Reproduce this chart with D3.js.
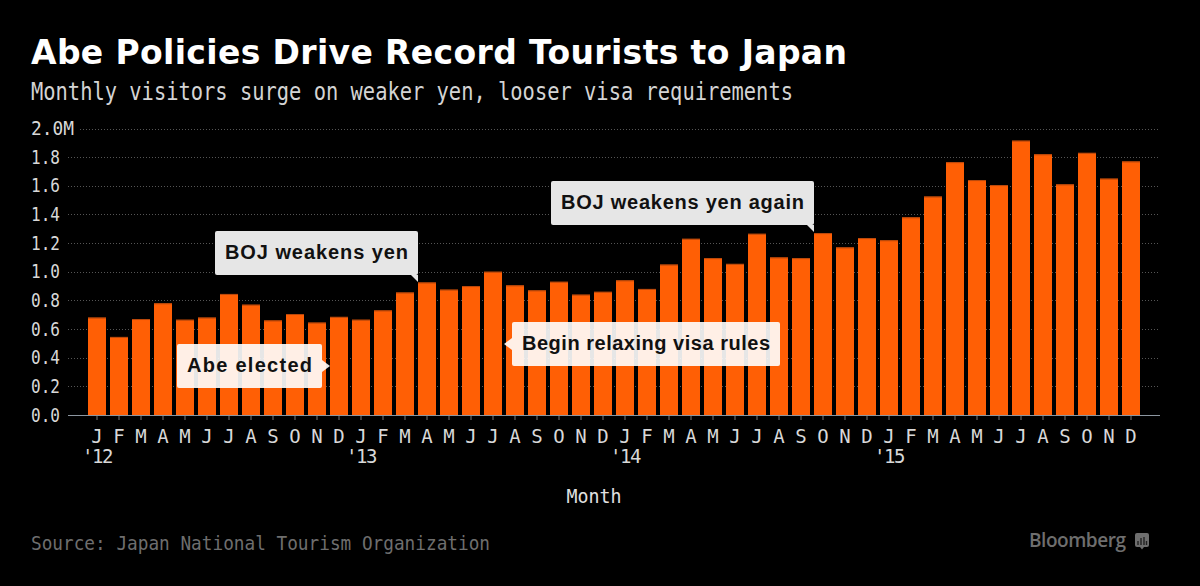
<!DOCTYPE html>
<html>
<head>
<meta charset="utf-8">
<script src="https://cdn.jsdelivr.net/npm/d3@7"></script>
<style>
html, body { margin: 0; padding: 0; background: #000; }
svg { display: block; }
text { font-family: "DejaVu Sans", sans-serif; }
.mono { font-family: "DejaVu Sans Mono", monospace; }
</style>
</head>
<body>
<svg id="chart"></svg>
<script>
const months = ["J", "F", "M", "A", "M", "J", "J", "A", "S", "O", "N", "D"];
const years = ["'12", "'13", "'14", "'15"];
const visitors = [
    0.68, 0.545, 0.67, 0.78, 0.665, 0.68, 0.845, 0.77, 0.66, 0.705, 0.645, 0.685,
    0.665, 0.73, 0.855, 0.925, 0.875, 0.90, 1.00, 0.905, 0.87, 0.93, 0.84, 0.86,
    0.94, 0.88, 1.05, 1.23, 1.095, 1.055, 1.265, 1.10, 1.095, 1.27, 1.17, 1.235,
    1.22, 1.38, 1.525, 1.765, 1.64, 1.605, 1.915, 1.82, 1.61, 1.83, 1.65, 1.77
];
const yTicks = [0, 0.2, 0.4, 0.6, 0.8, 1.0, 1.2, 1.4, 1.6, 1.8, 2.0];

const width = 1200, height = 586;
const left = 68, right = 1160, top_ = 128.5, bottom = 415;

const svg = d3.select("#chart").attr("width", width).attr("height", height);

const indexes = visitors.map((d, i) => i);
const x = d3.scaleBand().domain(indexes).range([86, 1142]).paddingInner(4 / 22).paddingOuter(2 / 22);
const y = d3.scaleLinear().domain([0, 2]).range([bottom, top_]);

// titles
svg.append("text").attr("x", 31).attr("y", 64)
    .text("Abe Policies Drive Record Tourists to Japan")
    .style("font-size", "33px").style("font-weight", "bold").style("fill", "#fff")
    .attr("textLength", 816);
svg.append("text").attr("class", "mono").attr("x", 31).attr("y", 100)
    .text("Monthly visitors surge on weaker yen, looser visa requirements")
    .style("font-size", "24px").style("fill", "#d4d4d4")
    .attr("textLength", 762).attr("lengthAdjust", "spacingAndGlyphs");

// y axis with dotted gridlines
const yAxis = svg.append("g")
    .attr("transform", `translate(${left}, 0)`)
    .call(d3.axisLeft(y).tickValues(yTicks).tickSize(0).tickPadding(8)
        .tickFormat(d => d === 2 ? "2.0M" : d3.format(".1f")(d)));
yAxis.select(".domain").remove();
yAxis.selectAll("text")
    .attr("class", "mono")
    .attr("text-anchor", "start")
    .attr("x", -37)
    .attr("textLength", d => d === 2 ? 43 : 29)
    .attr("lengthAdjust", "spacingAndGlyphs")
    .style("font-family", "'DejaVu Sans Mono', monospace")
    .style("font-size", "19px")
    .style("fill", "#d8d8d8");

svg.append("g").selectAll("line")
    .data(yTicks.filter(d => d > 0))
    .join("line")
    .attr("x1", d => d === 2 ? 80 : left)
    .attr("x2", right)
    .attr("y1", d => Math.round(y(d)) + 0.5)
    .attr("y2", d => Math.round(y(d)) + 0.5)
    .style("stroke", "#555")
    .style("stroke-dasharray", "1,2");

// bars
svg.append("g").selectAll("rect")
    .data(indexes)
    .join("rect")
    .attr("x", d => x(d))
    .attr("y", d => y(visitors[d]))
    .attr("width", x.bandwidth())
    .attr("height", d => bottom - y(visitors[d]))
    .style("fill", "#ff5f05");

svg.append("g").selectAll("rect")
    .data(indexes)
    .join("rect")
    .attr("x", d => x(d))
    .attr("y", d => y(visitors[d]))
    .attr("width", x.bandwidth())
    .attr("height", 1)
    .style("fill", "#b8480c");

// x axis
const xAxis = svg.append("g").attr("transform", `translate(0, ${bottom})`);
xAxis.append("line")
    .attr("x1", left).attr("x2", right).attr("y1", 0.5).attr("y2", 0.5)
    .style("stroke", "#8c96a0");
xAxis.selectAll("line.tick")
    .data(indexes)
    .join("line")
    .attr("class", "tick")
    .attr("x1", d => x(d) + x.bandwidth() / 2)
    .attr("x2", d => x(d) + x.bandwidth() / 2)
    .attr("y1", 1).attr("y2", 5)
    .style("stroke", "#777");
xAxis.selectAll("text.month")
    .data(indexes)
    .join("text")
    .attr("class", "month mono")
    .attr("x", d => x(d) + x.bandwidth() / 2)
    .attr("y", 28)
    .attr("text-anchor", "middle")
    .text(d => months[d % 12])
    .style("font-size", "19px")
    .style("fill", "#d8d8d8");
xAxis.selectAll("text.year")
    .data(years)
    .join("text")
    .attr("class", "year mono")
    .attr("x", (d, i) => x(i * 12) + x.bandwidth() / 2)
    .attr("y", 48)
    .attr("text-anchor", "middle")
    .text(d => d)
    .style("font-size", "19px")
    .style("letter-spacing", "-1.5px")
    .style("fill", "#d8d8d8");

svg.append("text").attr("class", "mono").attr("x", 594).attr("y", 503).attr("text-anchor", "middle")
    .text("Month").style("font-size", "19px").style("fill", "#e0e0e0")
    .attr("textLength", 55).attr("lengthAdjust", "spacingAndGlyphs");

// annotations: box, pointer, label
function callout(bx, by, bw, bh, pointer, label, labelWidth, fill) {
    const g = svg.append("g");
    g.append("path").attr("d", pointer).style("fill", fill);
    g.append("rect").attr("x", bx).attr("y", by).attr("width", bw).attr("height", bh)
        .attr("rx", 2).style("fill", fill);
    g.append("text").attr("x", bx + 10).attr("y", by + bh / 2 + 5.5)
        .text(label)
        .attr("textLength", labelWidth)
        .style("font-family", "'Liberation Sans', sans-serif")
        .style("font-size", "20px").style("font-weight", "bold")
        .style("fill", "#111");
}
callout(177, 344, 145, 44, "M322,360 L330,366 L322,372 Z", "Abe elected", 125, "rgba(255,255,255,0.9)");
callout(215, 231, 203, 44, "M411,275 L418,282 L418,275 Z", "BOJ weakens yen", 183, "#e6e6e6");
callout(551, 181, 263, 44, "M807,225 L814,232 L814,225 Z", "BOJ weakens yen again", 243, "#e6e6e6");
callout(512, 322, 268, 44, "M512,338 L504,344 L512,350 Z", "Begin relaxing visa rules", 248, "rgba(255,255,255,0.9)");

// footer
svg.append("text").attr("class", "mono").attr("x", 31).attr("y", 550)
    .text("Source: Japan National Tourism Organization")
    .style("font-size", "20px").style("fill", "#6e6e6e")
    .attr("textLength", 459).attr("lengthAdjust", "spacingAndGlyphs");
svg.append("text").attr("x", 1029).attr("y", 547)
    .text("Bloomberg")
    .style("font-family", "'Open Sans', sans-serif")
    .style("font-size", "19px").style("font-weight", "600").style("fill", "#6e6e6e")
    .attr("textLength", 97);
const logo = svg.append("g").attr("transform", "translate(1135, 533)");
logo.append("rect").attr("width", 14).attr("height", 14).attr("rx", 2).style("fill", "#6e6e6e");
logo.append("path").attr("d", "M5,14 L7,16.5 L9,14 Z").style("fill", "#6e6e6e");
logo.append("path").attr("d", "M3,12V8 M6,12V5 M9,12V4 M11.5,12V8").style("stroke", "#222").style("stroke-width", 1.4);
</script>
</body>
</html>
